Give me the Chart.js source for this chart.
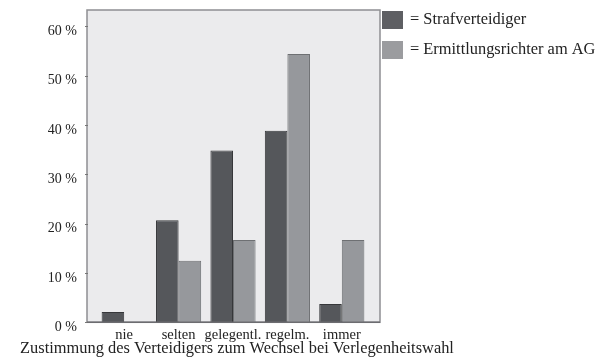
<!DOCTYPE html>
<html>
<head>
<meta charset="utf-8">
<script src="https://cdn.jsdelivr.net/npm/chart.js@4"></script>
<style>
  html, body { margin: 0; padding: 0; background: #fff; }
  #wrap { width: 599px; height: 359px; }
</style>
</head>
<body>
<div id="wrap"><canvas id="barChart"></canvas></div>
<script>
// Zustimmung zum Wechsel, Anteile in Prozent
const categories = ['nie', 'selten', 'gelegentl.', 'regelm.', 'immer'];
const strafverteidiger = [2.1, 20.7, 34.8, 38.8, 3.7];
const ermittlungsrichter = [0, 12.5, 16.7, 54.4, 16.7];
const yTicks = [0, 10, 20, 30, 40, 50, 60];
const seriesLabels = ['Strafverteidiger', 'Ermittlungsrichter am AG'];
const axisTitle = 'Zustimmung des Verteidigers zum Wechsel bei Verlegenheitswahl';

const serif = 'Liberation Serif';
const darkFill = '#55575b', darkEdge = '#36373a';
const lightFill = '#96989c', lightEdge = '#6e7073';
const swatches = ['#5e5f63', '#9b9c9f'];

// grey plot box, a bit wider than the category area, plus legend and axis title
const frame = {
  id: 'frame',
  beforeDatasetsDraw(chart) {
    const { ctx, chartArea: a, scales: { y } } = chart;
    const left = a.left - 10, right = a.right + 11;
    ctx.save();
    ctx.fillStyle = '#ebebed';
    ctx.fillRect(left, a.top, right - left, a.bottom - a.top);
    ctx.strokeStyle = '#8f8f92';
    ctx.lineWidth = 1.5;
    ctx.strokeRect(left, a.top, right - left, a.bottom - a.top);
    // small tick marks on the left edge
    ctx.lineWidth = 1;
    ctx.strokeStyle = '#777';
    yTicks.forEach(v => {
      const py = Math.round(y.getPixelForValue(v)) + 0.5;
      ctx.beginPath();
      ctx.moveTo(left - 2, py);
      ctx.lineTo(left + 1, py);
      ctx.stroke();
    });
    ctx.restore();
  },
  afterDraw(chart) {
    const { ctx, chartArea: a } = chart;
    ctx.save();
    // bottom line of the box over the bars
    ctx.strokeStyle = '#6c6c70';
    ctx.lineWidth = 1.5;
    ctx.beginPath();
    ctx.moveTo(a.left - 10, a.bottom);
    ctx.lineTo(a.right + 11, a.bottom);
    ctx.stroke();

    ctx.font = '16.4px "' + serif + '"';
    ctx.fillStyle = '#222';
    ctx.textBaseline = 'middle';
    ctx.textAlign = 'center';
    ctx.fillText(axisTitle, (a.left + a.right) / 2 + 4, 349);

    ctx.textAlign = 'left';
    seriesLabels.forEach((label, i) => {
      const top = 11 + i * 30;
      ctx.fillStyle = swatches[i];
      ctx.fillRect(382, top, 21, 18);
      ctx.fillStyle = '#222';
      ctx.fillText('= ' + label, 410, top + 9);
    });
    ctx.restore();
  }
};

new Chart(document.getElementById('barChart'), {
  type: 'bar',
  data: {
    labels: categories,
    datasets: [
      { label: seriesLabels[0], data: strafverteidiger, backgroundColor: darkFill, borderColor: darkEdge, borderWidth: 1 },
      { label: seriesLabels[1], data: ermittlungsrichter, backgroundColor: lightFill, borderColor: lightEdge, borderWidth: 1 }
    ]
  },
  options: {
    responsive: true,
    maintainAspectRatio: false,
    animation: false,
    layout: { padding: { top: 10, right: 230, left: 0, bottom: 0 } },
    datasets: { bar: { categoryPercentage: 0.83, barPercentage: 1.0 } },
    plugins: { legend: { display: false }, tooltip: { enabled: false } },
    scales: {
      x: {
        grid: { display: false, drawTicks: false },
        border: { display: false },
        ticks: { color: '#222', font: { family: serif, size: 14.5 }, padding: 4, maxRotation: 0, autoSkip: false },
        afterFit(scale) { scale.height = 36.7; }
      },
      y: {
        min: 0,
        max: 63.3,
        grid: { display: false, drawTicks: false },
        border: { display: false },
        ticks: {
          stepSize: 10,
          includeBounds: false,
          padding: 20,
          labelOffset: 5,
          color: '#222',
          font: { family: serif, size: 14 },
          callback: v => v + ' %'
        },
        afterFit(scale) {
          scale.width = 97;
          scale.paddingTop = 0;
          scale.paddingBottom = 0;
        }
      }
    }
  },
  plugins: [frame]
});
</script>
</body>
</html>
